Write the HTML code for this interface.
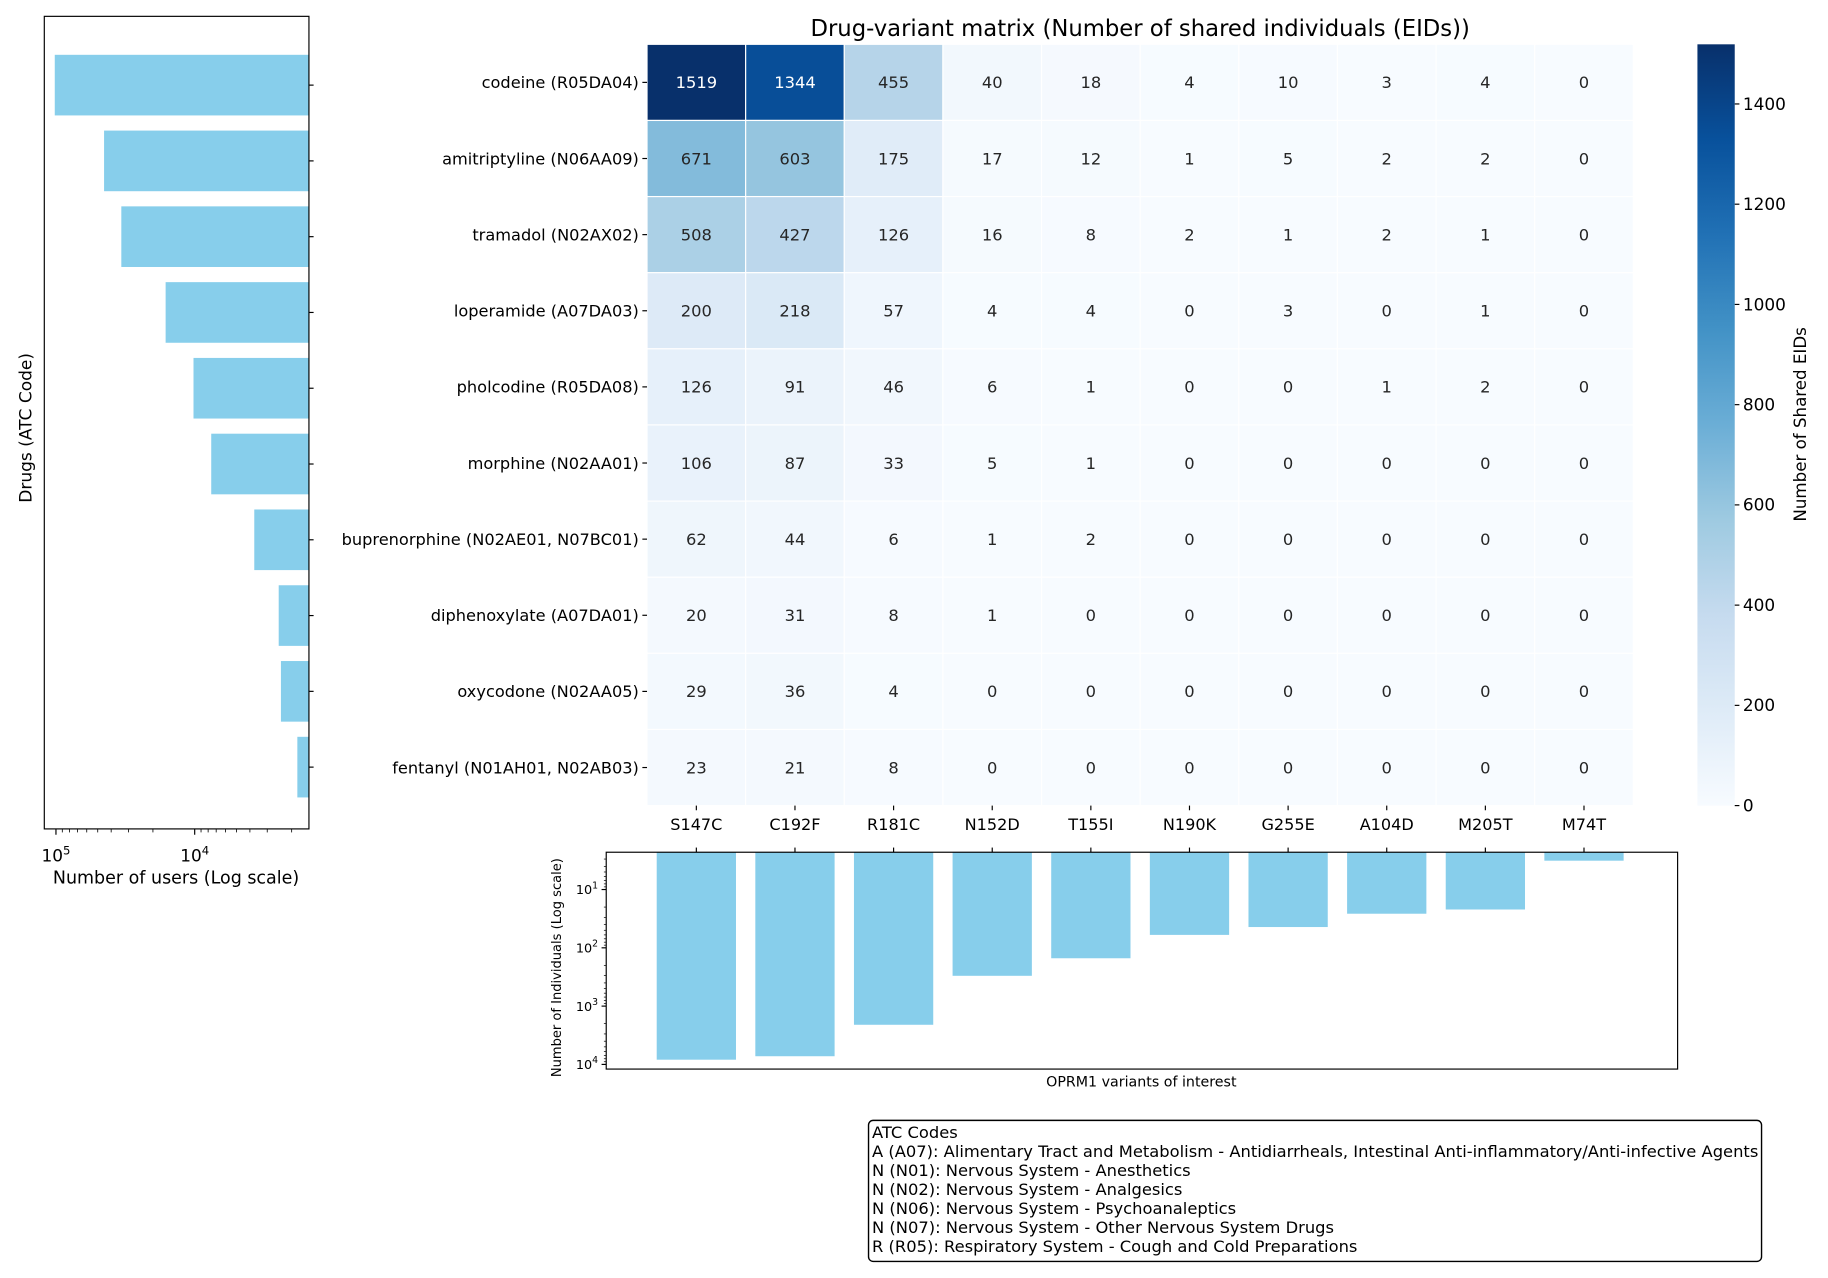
<!DOCTYPE html>
<html><head><meta charset="utf-8">
<style>
html,body{margin:0;padding:0;background:#fff;}
svg{display:block;font-family:"DejaVu Sans","Liberation Sans",sans-serif;}
</style></head>
<body>
<svg id="fig" width="1828" height="1278" viewBox="0 0 1568 1096.2" xmlns="http://www.w3.org/2000/svg"></svg>
<script>
const drugs = ["codeine (R05DA04)","amitriptyline (N06AA09)","tramadol (N02AX02)","loperamide (A07DA03)","pholcodine (R05DA08)","morphine (N02AA01)","buprenorphine (N02AE01, N07BC01)","diphenoxylate (A07DA01)","oxycodone (N02AA05)","fentanyl (N01AH01, N02AB03)"];
const drugUsers = [102000,45000,33800,16200,10200,7600,3720,2480,2390,1820];
const variants = ["S147C","C192F","R181C","N152D","T155I","N190K","G255E","A104D","M205T","M74T"];
const variantCounts = [8300,7240,2090,302,151,60,44,26,22,3.2];
const matrix = [
[1519,1344,455,40,18,4,10,3,4,0],
[671,603,175,17,12,1,5,2,2,0],
[508,427,126,16,8,2,1,2,1,0],
[200,218,57,4,4,0,3,0,1,0],
[126,91,46,6,1,0,0,1,2,0],
[106,87,33,5,1,0,0,0,0,0],
[62,44,6,1,2,0,0,0,0,0],
[20,31,8,1,0,0,0,0,0,0],
[29,36,4,0,0,0,0,0,0,0],
[23,21,8,0,0,0,0,0,0,0]];
const cbTicks = [0,200,400,600,800,1000,1200,1400];
const legendLines = ["ATC Codes","A (A07): Alimentary Tract and Metabolism - Antidiarrheals, Intestinal Anti-inflammatory/Anti-infective Agents","N (N01): Nervous System - Anesthetics","N (N02): Nervous System - Analgesics","N (N06): Nervous System - Psychoanaleptics","N (N07): Nervous System - Other Nervous System Drugs","R (R05): Respiratory System - Cough and Cold Preparations"];

const NS="http://www.w3.org/2000/svg";
const svg=document.getElementById('fig');
function mk(tag,attrs,parent,text){const e=document.createElementNS(NS,tag);for(const k in attrs)e.setAttribute(k,attrs[k]);if(text!==undefined)e.textContent=text;(parent||svg).appendChild(e);return e;}

const blues=[[247,251,255],[222,235,247],[198,219,239],[158,202,225],[107,174,214],[66,146,198],[33,113,181],[8,81,156],[8,48,107]];
function bluesAt(t){t=Math.max(0,Math.min(1,t));const p=t*8,i=Math.min(7,Math.floor(p)),f=p-i;const a=blues[i],b=blues[i+1];return [0,1,2].map(k=>Math.round(a[k]+(b[k]-a[k])*f));}
const vmax=1519;

// ===== Left bar chart =====
const L={x0:38,x1:265,y0:14,y1:711};
const lx=v=>48+(5-Math.log10(v))*119;
const rowY=i=>73+i*65;
const gL=mk('g',{},svg);

drugs.forEach((d,i)=>{const x=lx(drugUsers[i]);const r=mk('rect',{x:x,y:rowY(i)-26,width:L.x1-x,height:52,fill:'#87ceeb'},gL);

mk('line',{x1:L.x1,x2:L.x1+4,y1:rowY(i),y2:rowY(i),stroke:'#000','stroke-width':1},gL);});
const lf=mk('rect',{x:L.x0,y:L.y0,width:L.x1-L.x0,height:L.y1-L.y0,fill:'none',stroke:'#000','stroke-width':1},gL);

for(let e=3;e<=5;e++){for(let m=1;m<10;m++){const v=m*Math.pow(10,e);const x=lx(v);if(x<L.x0||x>L.x1)continue;mk('line',{x1:x,x2:x,y1:L.y1,y2:L.y1+(m==1?5:3),stroke:'#000','stroke-width':m==1?1:0.7},gL);}}
[[5,'5'],[4,'4']].forEach(([e,s])=>{const t=mk('text',{x:lx(Math.pow(10,e)),y:739,'text-anchor':'middle','font-size':14.5},gL);t.innerHTML='10<tspan dy="-6" font-size="10">'+s+'</tspan>';});
let t=mk('text',{x:151,y:758,'text-anchor':'middle','font-size':15},gL,'Number of users (Log scale)');
t=mk('text',{x:0,y:0,'text-anchor':'middle','font-size':14.6,transform:'translate(27,367) rotate(-90)'},gL,'Drugs (ATC Code)');

// ===== Heatmap =====
const H={x0:555,x1:1401,y0:38,y1:691};
const cw=(H.x1-H.x0)/10,ch=(H.y1-H.y0)/10;
const gH=mk('g',{},svg);
t=mk('text',{x:978,y:31,'text-anchor':'middle','font-size':19.5},gH,'Drug-variant matrix (Number of shared individuals (EIDs))');
matrix.forEach((row,i)=>row.forEach((v,j)=>{const c=bluesAt(v/vmax);const x=H.x0+j*cw,y=H.y0+i*ch;
const r=mk('rect',{x:x,y:y,width:cw,height:ch,fill:`rgb(${c})`,stroke:'#fff','stroke-width':1},gH);
const lum=(0.2126*c[0]+0.7152*c[1]+0.0722*c[2])/255;
const tt=mk('text',{x:x+cw/2,y:y+ch/2+5,'text-anchor':'middle','font-size':14,fill:lum>0.408?'#262626':'#fff'},gH,String(v));}));
drugs.forEach((d,i)=>{const y=H.y0+(i+0.5)*ch;mk('line',{x1:H.x0-4,x2:H.x0,y1:y,y2:y,stroke:'#000','stroke-width':1},gH);
const tt=mk('text',{x:H.x0-7,y:y+5,'text-anchor':'end','font-size':13.9},gH,d);});
variants.forEach((v,j)=>{const x=H.x0+(j+0.5)*cw;mk('line',{x1:x,x2:x,y1:H.y1,y2:H.y1+4,stroke:'#000','stroke-width':1},gH);
const tt=mk('text',{x:x,y:712,'text-anchor':'middle','font-size':13.8},gH,v);});

// colorbar
const C={x0:1456,x1:1488,y0:38,y1:691};
const defs=mk('defs',{},svg);const lg=mk('linearGradient',{id:'cb',x1:0,y1:1,x2:0,y2:0},defs);
for(let k=0;k<=8;k++)mk('stop',{offset:k/8,'stop-color':`rgb(${blues[k]})`},lg);
const cb=mk('rect',{x:C.x0,y:C.y0,width:C.x1-C.x0,height:C.y1-C.y0,fill:'url(#cb)'},svg);
const cy=v=>C.y1-(v/vmax)*(C.y1-C.y0);
cbTicks.forEach(v=>{mk('line',{x1:C.x1,x2:C.x1+4,y1:cy(v),y2:cy(v),stroke:'#000','stroke-width':1});
const tt=mk('text',{x:C.x1+7,y:cy(v)+5,'font-size':14.5},svg,String(v));});
t=mk('text',{x:0,y:0,'text-anchor':'middle','font-size':14.3,transform:'translate(1549,364) rotate(-90)'},svg,'Number of Shared EIDs');

// ===== Bottom bar chart =====
const B={x0:520,x1:1439,y0:731,y1:917};
const by=v=>763+(Math.log10(v)-1)*50;
const gB=mk('g',{},svg);
variants.forEach((v,j)=>{const x=H.x0+(j+0.5)*cw;const y=by(variantCounts[j]);
const r=mk('rect',{x:x-34,y:B.y0,width:68,height:y-B.y0,fill:'#87ceeb'},gB);
mk('line',{x1:x,x2:x,y1:B.y0,y2:B.y0-4,stroke:'#000','stroke-width':1},gB);});
const bf=mk('rect',{x:B.x0,y:B.y0,width:B.x1-B.x0,height:B.y1-B.y0,fill:'none',stroke:'#000','stroke-width':1},gB);
for(let e=0;e<=4;e++){for(let m=1;m<10;m++){const v=m*Math.pow(10,e);const y=by(v);if(y<B.y0||y>B.y1)continue;mk('line',{x1:B.x0,x2:B.x0-(m==1?4:2),y1:y,y2:y,stroke:'#000','stroke-width':m==1?1:0.6},gB);}}
[1,2,3,4].forEach(e=>{const tt=mk('text',{x:B.x0-7,y:by(Math.pow(10,e))+4,'text-anchor':'end','font-size':11},gB);tt.innerHTML='10<tspan dy="-5" font-size="8">'+e+'</tspan>';});
t=mk('text',{x:0,y:0,'text-anchor':'middle','font-size':11.2,transform:'translate(481,830) rotate(-90)'},gB,'Number of Individuals (Log scale)');
t=mk('text',{x:979,y:932,'text-anchor':'middle','font-size':12.2},gB,'OPRM1 variants of interest');

// ===== Legend =====
const gLg=mk('g',{},svg);
mk('rect',{x:745,y:961,width:766,height:121,rx:4,fill:'#fff',stroke:'#000','stroke-width':1.2},gLg);
legendLines.forEach((s,i)=>{const tt=mk('text',{x:748,y:976+i*16.3,'font-size':14},gLg,s);});
</script>
</body></html>
